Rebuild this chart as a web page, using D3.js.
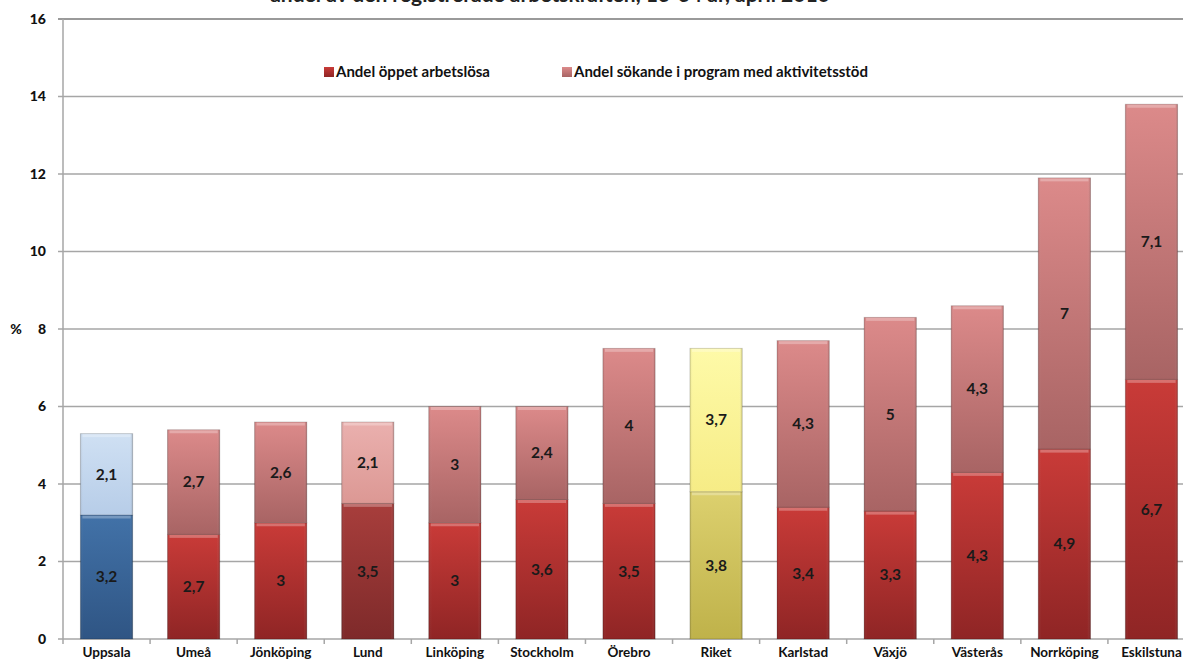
<!DOCTYPE html>
<html>
<head>
<meta charset="utf-8">
<script src="https://cdn.jsdelivr.net/npm/d3@7"></script>
<style>
  html, body { margin: 0; padding: 0; background: #fff; }
  svg { display: block; font-family: Lato, "Open Sans", sans-serif; }
</style>
</head>
<body>
<svg id="chart" width="1183" height="669"></svg>
<script>
// ---- data ----
const categories = ["Uppsala", "Umeå", "Jönköping", "Lund", "Linköping", "Stockholm", "Örebro", "Riket", "Karlstad", "Växjö", "Västerås", "Norrköping", "Eskilstuna"];
const openUnemployed = [3.2, 2.7, 3, 3.5, 3, 3.6, 3.5, 3.8, 3.4, 3.3, 4.3, 4.9, 6.7];
const inProgram = [2.1, 2.7, 2.6, 2.1, 3, 2.4, 4, 3.7, 4.3, 5, 4.3, 7, 7.1];
const seriesNames = ["Andel öppet arbetslösa", "Andel sökande i program med aktivitetsstöd"];
const yTicks = [0, 2, 4, 6, 8, 10, 12, 14, 16];
const titleText = "andel av den registrerade arbetskraften, 16-64 år, april 2010";

// colour themes per category (bottom, top)
const themes = {
  default: { bottom: ["#c93b38", "#8f2525"], top: ["#dc8a8a", "#a86464"] },
  Uppsala: { bottom: ["#4272a8", "#2f5584"], top: ["#cfe0f3", "#b7cde8"] },
  Lund:    { bottom: ["#a83e3c", "#7e2a2a"], top: ["#eab0ae", "#dc9894"] },
  Riket:   { bottom: ["#dcd06e", "#bfb24a"], top: ["#fefaa8", "#f6ec86"] }
};

const svg = d3.select("#chart");
const W = 1183, H = 669;
const plot = { left: 63, right: 1195, top: 19, bottom: 639 };

const x = d3.scaleBand().domain(categories).range([plot.left, plot.right])
  .paddingInner(0.4).paddingOuter(0.2);
const y = d3.scaleLinear().domain([0, 16]).range([plot.bottom, plot.top]);

const defs = svg.append("defs");
function grad(id, c0, c1) {
  const g = defs.append("linearGradient").attr("id", id)
    .attr("x1", 0).attr("y1", 0).attr("x2", 0).attr("y2", 1);
  g.append("stop").attr("offset", "0%").attr("stop-color", c0);
  g.append("stop").attr("offset", "100%").attr("stop-color", c1);
}
function hgrad(id) {
  const g = defs.append("linearGradient").attr("id", id)
    .attr("x1", 0).attr("y1", 0).attr("x2", 1).attr("y2", 0);
  g.append("stop").attr("offset", "0%").attr("stop-color", "#000").attr("stop-opacity", 0.10);
  g.append("stop").attr("offset", "6%").attr("stop-color", "#fff").attr("stop-opacity", 0.0);
  g.append("stop").attr("offset", "94%").attr("stop-color", "#fff").attr("stop-opacity", 0.0);
  g.append("stop").attr("offset", "100%").attr("stop-color", "#000").attr("stop-opacity", 0.18);
}
hgrad("sideShade");
Object.keys(themes).forEach(k => {
  grad("g-" + k + "-b", themes[k].bottom[0], themes[k].bottom[1]);
  grad("g-" + k + "-t", themes[k].top[0], themes[k].top[1]);
});
const themeKey = c => themes[c] ? c : "default";

// title (cropped at top edge, as in the reference)
svg.append("text").attr("x", 550).attr("y", 1.5).attr("text-anchor", "middle")
  .attr("font-size", 21).attr("font-weight", "bold").attr("fill", "#222")
  .text(titleText);

// gridlines
svg.append("g").selectAll("line").data(yTicks).join("line")
  .attr("x1", plot.left - 5).attr("x2", W)
  .attr("y1", d => y(d)).attr("y2", d => y(d))
  .attr("stroke", d => d === 16 ? "#9a9a9a" : "#a6a6a6")
  .attr("stroke-width", d => d === 16 ? 2 : 1.5);

// y axis line
svg.append("line").attr("x1", plot.left).attr("x2", plot.left)
  .attr("y1", plot.top).attr("y2", plot.bottom)
  .attr("stroke", "#a6a6a6").attr("stroke-width", 1.5);

// y tick labels
svg.append("g").selectAll("text").data(yTicks).join("text")
  .attr("x", 46).attr("y", d => y(d)).attr("dy", "0.35em")
  .attr("text-anchor", "end").attr("font-size", 14).attr("font-weight", "900")
  .attr("fill", "#111").text(d => d);
svg.append("text").attr("x", 16).attr("y", y(8)).attr("dy", "0.35em")
  .attr("text-anchor", "middle").attr("font-size", 14).attr("font-weight", "900")
  .attr("fill", "#111").text("%");

// category tick marks
const boundaries = categories.map(c => x(c) - x.step() * x.paddingInner() / 2);
svg.append("g").selectAll("line").data(boundaries).join("line")
  .attr("x1", d => d).attr("x2", d => d)
  .attr("y1", plot.bottom).attr("y2", plot.bottom + 5)
  .attr("stroke", "#a6a6a6").attr("stroke-width", 1.5);

// bars
const data = categories.map((c, i) => ({ c, a: openUnemployed[i], b: inProgram[i] }));
const bars = svg.append("g").selectAll("g").data(data).join("g");

function segment(sel, y0f, y1f, part) {
  sel.append("rect")
    .attr("x", d => x(d.c)).attr("width", x.bandwidth())
    .attr("y", d => y(y1f(d))).attr("height", d => y(y0f(d)) - y(y1f(d)))
    .attr("fill", d => `url(#g-${themeKey(d.c)}-${part})`)
    .attr("stroke", "rgba(0,0,0,0.18)").attr("stroke-width", 1);
  sel.append("rect")
    .attr("x", d => x(d.c)).attr("width", x.bandwidth())
    .attr("y", d => y(y1f(d))).attr("height", d => y(y0f(d)) - y(y1f(d)))
    .attr("fill", "url(#sideShade)");
  // bevel highlight at top
  sel.append("rect")
    .attr("x", d => x(d.c) + 2).attr("width", x.bandwidth() - 4)
    .attr("y", d => y(y1f(d)) + 0.5).attr("height", 3)
    .attr("fill", "#fff").attr("opacity", 0.28);
}
segment(bars, d => 0, d => d.a, "b");
segment(bars, d => d.a, d => d.a + d.b, "t");

// data labels
const fmt = v => String(v).replace(".", ",");
bars.append("text")
  .attr("x", d => x(d.c) + x.bandwidth() / 2)
  .attr("y", d => y(d.a / 2)).attr("dy", "0.35em")
  .attr("text-anchor", "middle").attr("font-size", 15.5).attr("font-weight", "bold")
  .attr("fill", "#1a1a1a").text(d => fmt(d.a));
bars.append("text")
  .attr("x", d => x(d.c) + x.bandwidth() / 2)
  .attr("y", d => y(d.a + d.b / 2)).attr("dy", "0.35em")
  .attr("text-anchor", "middle").attr("font-size", 15.5).attr("font-weight", "bold")
  .attr("fill", "#1a1a1a").text(d => fmt(d.b));

// category labels
svg.append("g").selectAll("text").data(categories).join("text")
  .attr("x", d => x(d) + x.bandwidth() / 2).attr("y", 657)
  .attr("text-anchor", "middle").attr("font-size", 13.5).attr("font-weight", "bold")
  .attr("fill", "#111").text(d => d);

// legend
const legendItems = [
  { name: seriesNames[0], key: "g-default-b", x: 324 },
  { name: seriesNames[1], key: "g-default-t", x: 562 }
];
const lg = svg.append("g").selectAll("g").data(legendItems).join("g")
  .attr("transform", d => `translate(${d.x},72)`);
lg.append("rect").attr("x", 0).attr("y", -5).attr("width", 10).attr("height", 10)
  .attr("fill", d => `url(#${d.key})`);
lg.append("text").attr("x", 12).attr("y", 0).attr("dy", "0.35em")
  .attr("font-size", 15).attr("font-weight", "bold").attr("fill", "#111")
  .text(d => d.name);
</script>
</body>
</html>
